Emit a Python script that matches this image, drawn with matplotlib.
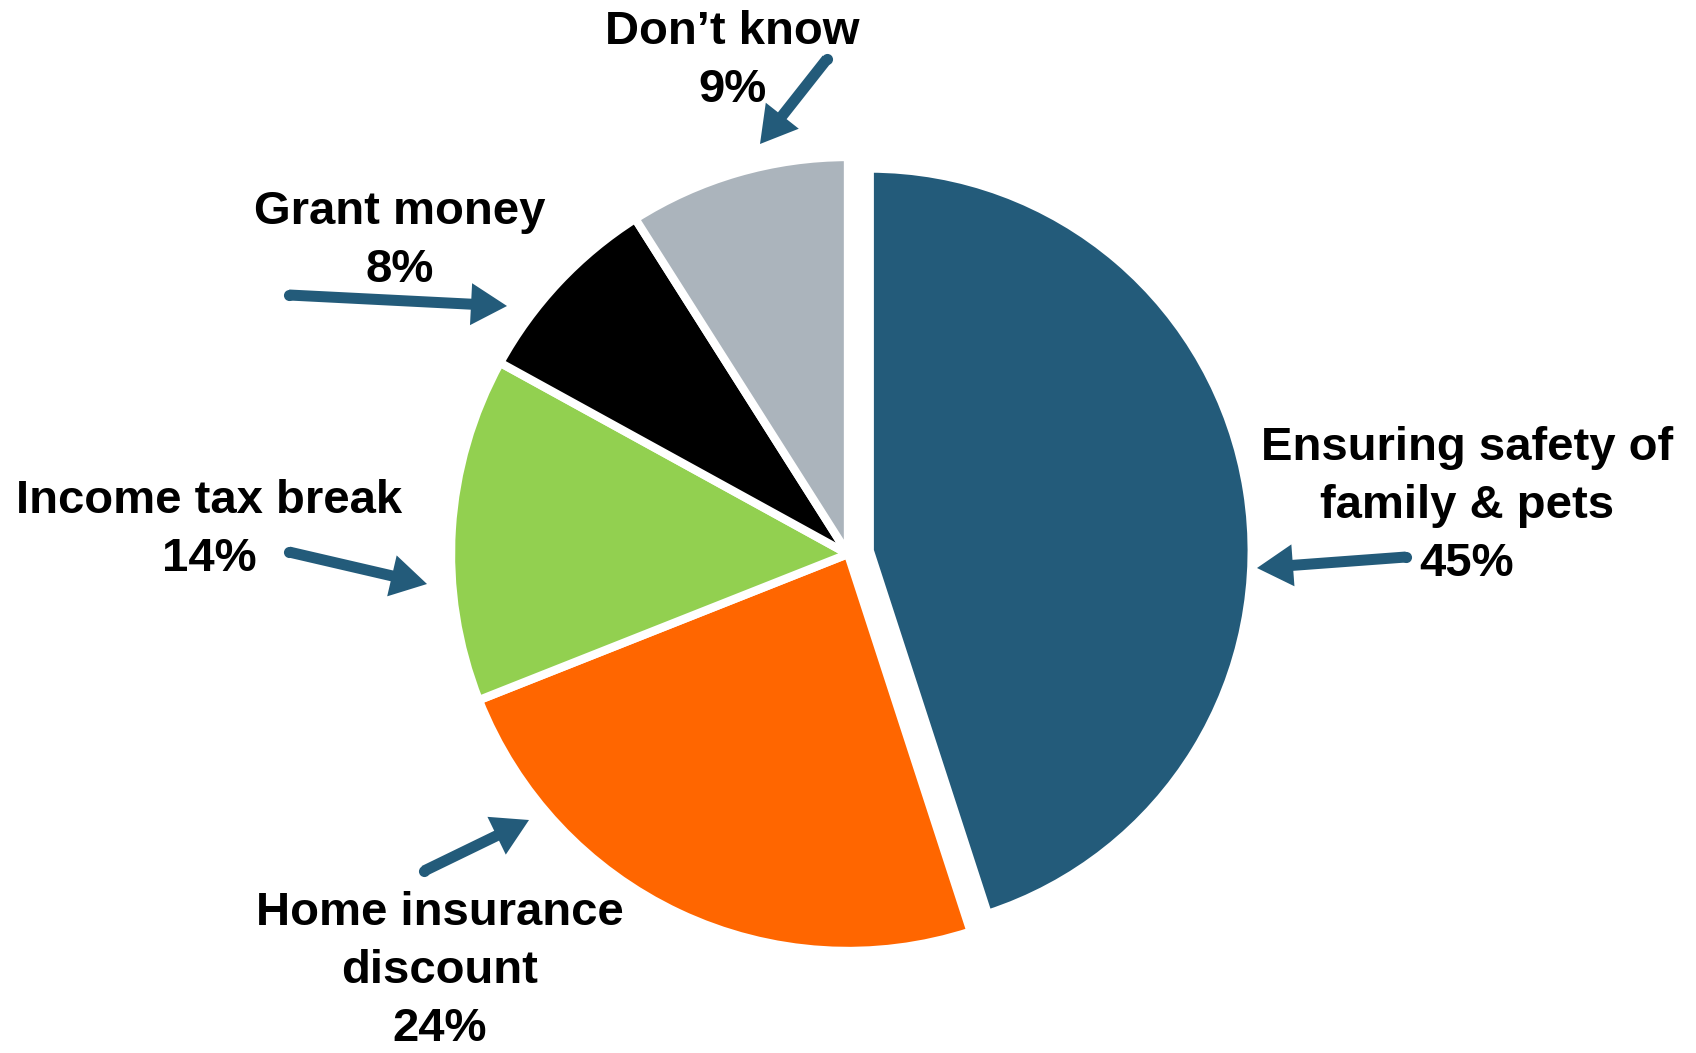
import numpy as np
import matplotlib
matplotlib.use("Agg")
import matplotlib.pyplot as plt

# Survey shares (percent), clockwise from 12 o'clock
categories = ["Ensuring safety of\nfamily & pets", "Home insurance\ndiscount",
              "Income tax break", "Grant money", "Don\u2019t know"]
values = [45, 24, 14, 8, 9]
colors = ["#235B7A", "#FF6600", "#92D050", "#000000", "#ABB4BC"]
arrow_color = "#235B7A"

W, H = 1696, 1053
fig = plt.figure(figsize=(W / 100, H / 100), dpi=100)
ax = fig.add_axes([0, 0, 1, 1])

cx, cy, R = 848, 499, 397
wedges, _ = ax.pie(values, colors=colors, startangle=90, counterclock=False,
                   radius=R, center=(cx, cy),
                   wedgeprops=dict(edgecolor="white", linewidth=6))

# Pull the largest slice out along its bisector and draw it slightly smaller
w0 = wedges[0]
mid = np.deg2rad(0.5 * (w0.theta1 + w0.theta2))
offset = 22
w0.set_center((cx + offset * np.cos(mid), cy + offset * np.sin(mid)))
w0.set_radius(382)

ax.set_xlim(0, W)
ax.set_ylim(0, H)
ax.set_aspect("equal")
ax.axis("off")

font = dict(family="Liberation Sans", fontweight="bold", fontsize=34,
            color="black", ha="center", va="center", linespacing=1.4)

# Label text centres (pixels from top-left) and arrow tail -> tip
label_pos = [(1467, 506), (440, 971), (209, 530), (400, 241), (732, 61)]
arrows = [((1406, 557), (1257, 568)),
          ((424, 871), (529, 820)),
          ((289, 552), (427, 584)),
          ((289, 295), (507, 306)),
          ((827, 59), (760, 144))]

for name, val, (lx, ly), (tail, tip) in zip(categories, values, label_pos, arrows):
    ax.text(lx, H - ly, f"{name}\n{val}%", **font)
    x0, y0 = tail[0], H - tail[1]
    x1, y1 = tip[0], H - tip[1]
    ax.arrow(x0, y0, x1 - x0, y1 - y0, width=11, head_width=42, head_length=36,
             length_includes_head=True, color=arrow_color, linewidth=0)
    ax.plot([x0], [y0], marker="o", markersize=8, color=arrow_color,
            markeredgewidth=0)

fig.savefig("out.png", dpi=100, facecolor="white")
